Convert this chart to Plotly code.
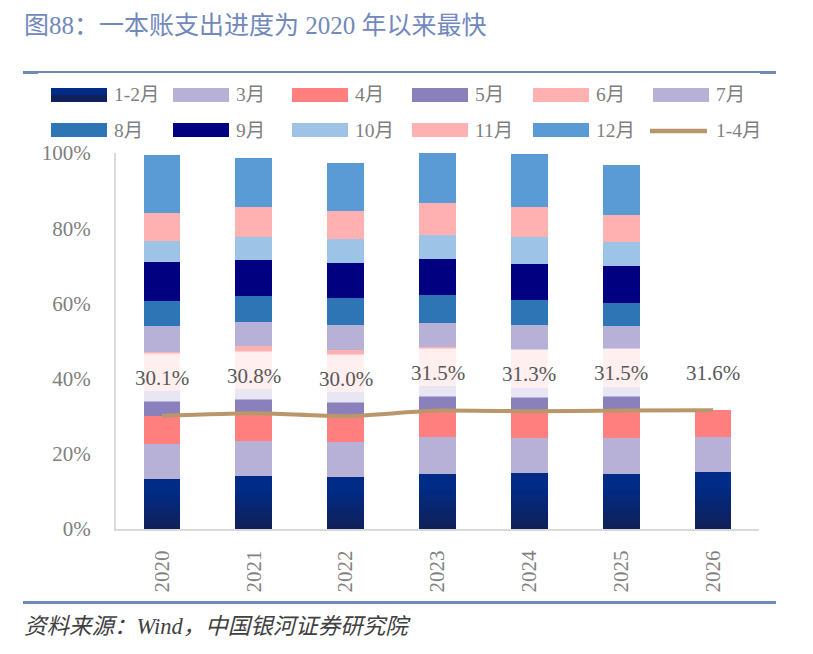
import plotly.graph_objects as go

years = ["2020", "2021", "2022", "2023", "2024", "2025", "2026"]
months = ["1-2月", "3月", "4月", "5月", "6月", "7月", "8月", "9月", "10月", "11月", "12月"]

# monthly spending progress share (% of full-year budget), by month, per year
m12 = [13.4, 14.2, 13.9, 14.7, 15.0, 14.7, 15.2]
m03 = [9.3, 9.3, 9.3, 9.9, 9.3, 9.6, 9.4]
m04 = [7.4, 7.3, 6.8, 6.9, 7.0, 7.2, 7.0]
m05 = [6.7, 6.5, 6.5, 6.6, 6.3, 6.4, None]
m06 = [10.4, 11.5, 11.2, 10.4, 10.1, 10.1, None]
m07 = [6.9, 6.3, 6.6, 6.4, 6.6, 6.1, None]
m08 = [6.6, 7.0, 7.2, 7.4, 6.7, 6.1, None]
m09 = [10.4, 9.5, 9.3, 9.6, 9.6, 9.8, None]
m10 = [5.6, 6.0, 6.2, 6.4, 7.0, 6.2, None]
m11 = [7.4, 8.1, 7.7, 8.5, 8.1, 7.4, None]
m12m = [15.5, 13.1, 12.7, 13.2, 14.1, 13.3, None]
jan_apr = [30.1, 30.8, 30.0, 31.5, 31.3, 31.5, 31.6]
y_ticks = [0, 20, 40, 60, 80, 100]

series = [m12, m03, m04, m05, m06, m07, m08, m09, m10, m11, m12m]
colors = ["#002B86", "#B7B1D7", "#FF7F7F", "#8A80BC", "#FFB0B0", "#B7B1D7",
          "#2E75B6", "#000080", "#9DC3E6", "#FFB0B0", "#5B9BD5"]
line_color = "#B9976A"

W, H = 813, 654
ML, MR, MT, MB = 116, 54, 153, 125
PW, PH = W - ML - MR, H - MT - MB


def px(x):
    return (x - ML) / PW


def py(y):
    return (H - MB - y) / PH


def mix(c1, c2, t):
    a = [int(c1[i:i + 2], 16) for i in (1, 3, 5)]
    b = [int(c2[i:i + 2], 16) for i in (1, 3, 5)]
    return "#" + "".join(f"{round(a[k] + (b[k] - a[k]) * t):02X}" for k in range(3))


xpos = list(range(len(years)))
fig = go.Figure()
bar_w = 0.4

# 1-2月 with a vertical gradient (drawn as thin stacked slices)
N = 10
bottom_c, top_c = "#10205A", "#002B86"
for i in range(N):
    t = min(1.0, i / (N - 3))
    fig.add_trace(go.Bar(
        x=xpos, y=[v / N for v in m12], width=bar_w,
        marker=dict(color=mix(bottom_c, top_c, t), line=dict(width=0)),
        name=months[0], showlegend=False, hoverinfo="skip"))

for name, vals, col in zip(months[1:], series[1:], colors[1:]):
    fig.add_trace(go.Bar(
        x=xpos, y=vals, width=bar_w, name=name,
        marker=dict(color=col, line=dict(width=0)), showlegend=False))

fig.add_trace(go.Scatter(
    x=xpos, y=jan_apr, mode="lines", name="1-4月",
    line=dict(color=line_color, width=4, shape="spline", smoothing=0.6),
    showlegend=False))

serif = "Liberation Serif, Noto Sans CJK SC, serif"
ann = []
for xp, v in zip(xpos, jan_apr):
    ann.append(dict(x=xp, y=v, xref="x", yref="y", text=f"{v:.1f}%",
                    showarrow=False, yshift=38, height=47, width=70,
                    bgcolor="rgba(255,255,255,0.8)", borderpad=0,
                    font=dict(family=serif, size=21, color="#595959")))

# title and source
ann.append(dict(x=px(22), y=py(26), xref="paper", yref="paper", xanchor="left",
                yanchor="middle", showarrow=False,
                text="图88：一本账支出进度为 2020 年以来最快",
                font=dict(family=serif, size=25, color="#7189BC")))
ann.append(dict(x=px(22), y=py(626), xref="paper", yref="paper", xanchor="left",
                yanchor="middle", showarrow=False,
                text="<i>资料来源：Wind，中国银河证券研究院</i>",
                font=dict(family=serif, size=22.5, color="#404040")))

shapes = []
rule = "#6F8AB9"
shapes.append(dict(type="rect", xref="paper", yref="paper", x0=px(23), x1=px(776),
                   y0=py(73), y1=py(71), fillcolor=rule, line=dict(width=0)))
shapes.append(dict(type="rect", xref="paper", yref="paper", x0=px(23), x1=px(38),
                   y0=py(74), y1=py(71), fillcolor=rule, line=dict(width=0)))
shapes.append(dict(type="rect", xref="paper", yref="paper", x0=px(760), x1=px(776),
                   y0=py(74), y1=py(71), fillcolor=rule, line=dict(width=0)))
shapes.append(dict(type="rect", xref="paper", yref="paper", x0=px(23), x1=px(776),
                   y0=py(604), y1=py(601), fillcolor=rule, line=dict(width=0)))

# custom legend
leg_x = [51, 173, 292, 412, 533, 653]
leg_y = [95, 130]
entries = list(zip(months, colors)) + [("1-4月", None)]
for k, (name, col) in enumerate(entries):
    row, c = divmod(k, 6)
    x0 = leg_x[c]
    yc = leg_y[row]
    if col is None:
        shapes.append(dict(type="line", xref="paper", yref="paper",
                           x0=px(x0 - 3), x1=px(x0 + 54), y0=py(yc + 1), y1=py(yc + 1),
                           line=dict(color=line_color, width=4.5)))
    elif k == 0:
        shapes.append(dict(type="rect", xref="paper", yref="paper", x0=px(x0),
                           x1=px(x0 + 56), y0=py(yc + 7), y1=py(yc),
                           fillcolor="#10205A", line=dict(width=0)))
        shapes.append(dict(type="rect", xref="paper", yref="paper", x0=px(x0),
                           x1=px(x0 + 56), y0=py(yc), y1=py(yc - 7),
                           fillcolor="#002B86", line=dict(width=0)))
    else:
        shapes.append(dict(type="rect", xref="paper", yref="paper", x0=px(x0),
                           x1=px(x0 + 56), y0=py(yc + 7), y1=py(yc - 7),
                           fillcolor=col, line=dict(width=0)))
    ann.append(dict(x=px(x0 + 61), y=py(yc), xref="paper", yref="paper",
                    xanchor="left", yanchor="middle", showarrow=False, text=name,
                    font=dict(family=serif, size=19.5, color="#7F7F7F")))

fig.update_layout(
    width=W, height=H, margin=dict(l=ML, r=MR, t=MT, b=MB),
    barmode="stack",
    plot_bgcolor="white", paper_bgcolor="white",
    showlegend=False,
    annotations=ann, shapes=shapes,
    xaxis=dict(range=[-0.5, len(years) - 0.5], tickvals=xpos, ticktext=years,
               showline=True, linecolor="#D9D9D9", linewidth=2,
               showgrid=False, zeroline=False, ticks="outside", ticklen=11,
               tickcolor="rgba(0,0,0,0)", tickangle=-90,
               tickfont=dict(family=serif, size=21, color="#808080")),
    yaxis=dict(range=[0, 100], tickvals=y_ticks,
               ticktext=[f"{t}%" for t in y_ticks],
               showline=True, linecolor="#D9D9D9", linewidth=2, showgrid=False,
               zeroline=False, ticks="outside", ticklen=19,
               tickcolor="rgba(0,0,0,0)",
               tickfont=dict(family=serif, size=21, color="#808080")),
)

fig.write_html("out.html")
